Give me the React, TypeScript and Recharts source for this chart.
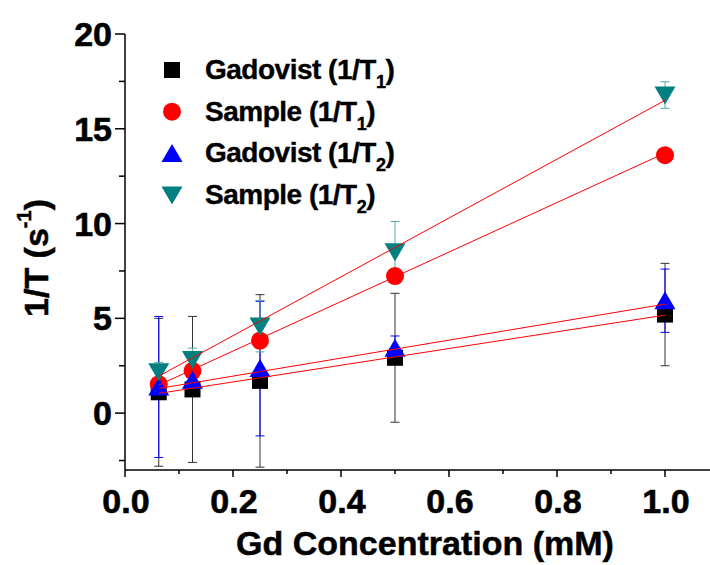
import React from 'react'
import { ScatterChart, Scatter, XAxis, YAxis, ErrorBar, Legend } from 'recharts'

// Gd concentration (mM)
const concentration = [0.0625, 0.125, 0.25, 0.5, 1.0]

// relaxation rates 1/T (s^-1)
const gadovistT1 = [1.1, 1.25, 1.7, 2.92, 5.2]
const gadovistT1Err = [3.9, 3.85, 4.55, 3.4, 2.7]
const sampleT1 = [1.53, 2.23, 3.82, 7.23, 13.61]
const gadovistT2 = [1.38, 1.74, 2.35, 3.42, 5.93]
const gadovistT2Err = [3.72, 0.3, 3.55, 0.65, 1.67]
const sampleT2 = [2.18, 2.83, 4.59, 8.51, 16.78]
const sampleT2Err = [0.5, 0.6, 1.36, 1.6, 0.7]

// linear fits, end points at first and last concentration
const fitX = [0.0625, 1.0]
const fitGadovistT1 = [1.04, 5.17]
const fitSampleT1 = [1.48, 13.72]
const fitGadovistT2 = [1.3, 5.75]
const fitSampleT2 = [1.95, 16.5]

const xMajorTicks = [0, 0.2, 0.4, 0.6, 0.8, 1.0]
const xMinorTicks = [0.1, 0.3, 0.5, 0.7, 0.9]
const yMajorTicks = [0, 5, 10, 15, 20]
const yMinorTicks = [-2.5, 2.5, 7.5, 12.5, 17.5]

const FONT = '"Liberation Sans", Arial, sans-serif'
const BLACK = '#000000'
const RED = '#ff0000'
const BLUE = '#0000ff'
const TEAL = '#008080'

const toPoints = (ys: number[], errs?: number[], xs: number[] = concentration) =>
  xs.map((x, i) => ({ x, y: ys[i], err: errs ? errs[i] : 0 }))

const Square = ({ cx, cy }: any) => <rect x={cx - 8} y={cy - 8} width={16} height={16} fill={BLACK} />
const Dot = ({ cx, cy }: any) => <circle cx={cx} cy={cy} r={9} fill={RED} />
const TriUp = ({ cx, cy }: any) => (
  <polygon points={`${cx},${cy - 9.5} ${cx - 10.5},${cy + 8.5} ${cx + 10.5},${cy + 8.5}`} fill={BLUE} />
)
const TriDown = ({ cx, cy }: any) => (
  <polygon points={`${cx},${cy + 9.5} ${cx - 10.5},${cy - 8.5} ${cx + 10.5},${cy - 8.5}`} fill={TEAL} />
)
const NoShape = () => <g />

const tickStyle = { fontFamily: FONT, fontWeight: 700, fontSize: 34, fill: BLACK, stroke: BLACK, strokeWidth: 0.6 }

const BottomTick = ({ x, y, payload }: any) => {
  const major = xMajorTicks.includes(payload.value)
  return (
    <g>
      <line x1={x} x2={x} y1={y} y2={y + (major ? 7 : 4)} stroke={BLACK} strokeWidth={1.5} />
      {major && (
        <text x={x + 1} y={y + 43} textAnchor="middle" style={tickStyle}>
          {payload.value.toFixed(1)}
        </text>
      )}
    </g>
  )
}

const TopTick = ({ x, y, payload }: any) => {
  const major = xMajorTicks.includes(payload.value)
  return <line x1={x} x2={x} y1={y} y2={y + (major ? 8 : 5)} stroke={BLACK} strokeWidth={1.5} />
}

const LeftTick = ({ x, y, payload }: any) => {
  const major = yMajorTicks.includes(payload.value)
  return (
    <g>
      <line x1={x} x2={x - (major ? 10 : 6)} y1={y} y2={y} stroke={BLACK} strokeWidth={1.5} />
      {major && (
        <text x={x - 13} y={y + 12} textAnchor="end" style={tickStyle}>
          {payload.value}
        </text>
      )}
    </g>
  )
}

const titleStyle = { fontFamily: FONT, fontWeight: 700, fontSize: 34, fill: BLACK, stroke: BLACK, strokeWidth: 0.5 }

const XTitle = ({ viewBox }: any) => (
  <text x={viewBox.x + viewBox.width / 2 + 3} y={viewBox.y + 85} textAnchor="middle" style={titleStyle}>
    Gd Concentration (mM)
  </text>
)

const YTitle = ({ viewBox }: any) => {
  const cx = 36
  const cy = viewBox.y + viewBox.height / 2 + 6
  return (
    <text
      x={cx}
      y={cy}
      transform={`rotate(-90 ${cx} ${cy})`}
      textAnchor="middle"
      dominantBaseline="central"
      style={titleStyle}
    >
      1/T (s
      <tspan fontSize={20} dy={-12}>-1</tspan>
      <tspan dy={12}>)</tspan>
    </text>
  )
}

const legendRows = [
  { name: 'Gadovist', sub: '1', marker: 'square' },
  { name: 'Sample', sub: '1', marker: 'circle' },
  { name: 'Gadovist', sub: '2', marker: 'up' },
  { name: 'Sample', sub: '2', marker: 'down' },
]

const LegendBox = () => (
  <svg width={260} height={175}>
    {legendRows.map((row, i) => {
      const cy = 25 + i * 41.7
      const cx = 22
      return (
        <g key={i}>
          {row.marker === 'square' && <Square cx={cx} cy={cy} />}
          {row.marker === 'circle' && <Dot cx={cx} cy={cy} />}
          {row.marker === 'up' && <TriUp cx={cx} cy={cy} />}
          {row.marker === 'down' && <TriDown cx={cx} cy={cy} />}
          <text
            x={55}
            y={cy + 9}
            style={{
              fontFamily: FONT,
              fontWeight: 700,
              fontSize: 28,
              fill: BLACK,
              stroke: BLACK,
              strokeWidth: 0.4,
              letterSpacing: -0.5,
            }}
          >
            {row.name} (1/T
            <tspan fontSize={18} dy={9}>{row.sub}</tspan>
            <tspan dy={-9}>)</tspan>
          </text>
        </g>
      )
    })}
  </svg>
)

export default function App() {
  return (
    <div
      style={{
        position: 'fixed',
        left: 0,
        top: 0,
        width: 710,
        height: 565,
        overflow: 'hidden',
        background: '#fff',
      }}
    >
      <ScatterChart width={730} height={565} margin={{ top: 34, right: 11, bottom: 0, left: 0 }}>
        <XAxis
          xAxisId={0}
          type="number"
          dataKey="x"
          domain={[0, 1.1]}
          ticks={[...xMajorTicks, ...xMinorTicks].sort((a, b) => a - b)}
          allowDataOverflow
          height={95}
          tickSize={0}
          tickMargin={0}
          tickLine={false}
          tick={<BottomTick />}
          axisLine={{ stroke: BLACK, strokeWidth: 1.5 }}
          interval={0}
          label={<XTitle />}
        />
        <XAxis
          xAxisId="top"
          orientation="top"
          type="number"
          dataKey="x"
          domain={[0, 1.1]}
          ticks={[...xMajorTicks, ...xMinorTicks].sort((a, b) => a - b)}
          allowDataOverflow
          height={0}
          tickSize={0}
          tickMargin={0}
          tickLine={false}
          tick={<TopTick />}
          axisLine={{ stroke: BLACK, strokeWidth: 1.5 }}
          interval={0}
        />
        <YAxis
          type="number"
          dataKey="y"
          domain={[-3, 20]}
          ticks={[...yMinorTicks, ...yMajorTicks].sort((a, b) => a - b)}
          allowDataOverflow
          width={125}
          tickSize={0}
          tickMargin={0}
          tickLine={false}
          tick={<LeftTick />}
          axisLine={{ stroke: BLACK, strokeWidth: 1.5 }}
          interval={0}
          label={<YTitle />}
        />
        <Legend
          layout="vertical"
          align="center"
          verticalAlign="middle"
          content={<LegendBox />}
          wrapperStyle={{ left: 150, top: 45, width: 260, height: 175 }}
        />
        <Scatter data={toPoints(gadovistT1, gadovistT1Err)} shape={<Square />} isAnimationActive={false}>
          <ErrorBar dataKey="err" direction="y" width={4.5} stroke="#333" strokeWidth={1} isAnimationActive={false} />
        </Scatter>
        <Scatter data={toPoints(sampleT1)} shape={<Dot />} isAnimationActive={false} />
        <Scatter data={toPoints(gadovistT2, gadovistT2Err)} shape={<TriUp />} isAnimationActive={false}>
          <ErrorBar dataKey="err" direction="y" width={4.5} stroke={BLUE} strokeWidth={1} isAnimationActive={false} />
        </Scatter>
        <Scatter data={toPoints(sampleT2, sampleT2Err)} shape={<TriDown />} isAnimationActive={false}>
          <ErrorBar dataKey="err" direction="y" width={4.5} stroke="#5aa6a6" strokeWidth={1} isAnimationActive={false} />
        </Scatter>
        {[fitGadovistT1, fitSampleT1, fitGadovistT2, fitSampleT2].map((fit, i) => (
          <Scatter
            key={i}
            data={toPoints(fit, undefined, fitX)}
            line={{ stroke: RED, strokeWidth: 1 }}
            shape={<NoShape />}
            legendType="none"
            isAnimationActive={false}
          />
        ))}
      </ScatterChart>
    </div>
  )
}
